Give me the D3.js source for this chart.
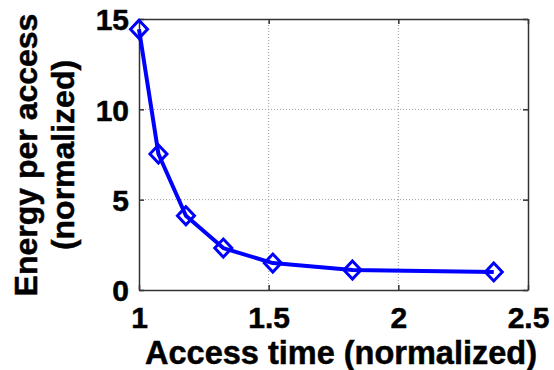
<!DOCTYPE html>
<html>
<head>
<meta charset="utf-8">
<script src="https://cdn.jsdelivr.net/npm/d3@7"></script>
<style>
body{margin:0;background:#fff;}
svg text{font-family:"Liberation Sans",Arial,sans-serif;font-weight:bold;fill:#000;stroke:#000;stroke-width:0.5px;}
</style>
</head>
<body>
<div id="my_dataviz"></div>
<script>
// access time vs energy per access, both normalized
let accessTime = [1.0, 1.075, 1.181, 1.325, 1.516, 1.823, 2.368];
let energy = [14.43, 7.53, 4.11, 2.32, 1.49, 1.11, 1.0];
let xTicks = [1, 1.5, 2, 2.5];
let yTicks = [0, 5, 10, 15];

let W = 554, H = 370;
let margin = {top: 19, right: 26, bottom: 80, left: 139};
let width = W - margin.left - margin.right;
let height = H - margin.top - margin.bottom;

let svg = d3.select("#my_dataviz")
  .append("svg")
    .attr("width", W)
    .attr("height", H)
  .append("g")
    .attr("transform", "translate(" + margin.left + "," + margin.top + ")");

let x = d3.scaleLinear().domain([1, 2.5]).range([0, width]);
let y = d3.scaleLinear().domain([0, 15]).range([height, 0]);

// dotted grid
svg.append("g").selectAll("line")
  .data(xTicks.slice(1, -1))
  .join("line")
    .attr("x1", d => x(d)).attr("x2", d => x(d))
    .attr("y1", 0).attr("y2", height)
    .attr("stroke", "#999").attr("stroke-width", 1)
    .attr("stroke-dasharray", "1,2");
svg.append("g").selectAll("line")
  .data(yTicks.slice(1, -1))
  .join("line")
    .attr("y1", d => y(d)).attr("y2", d => y(d))
    .attr("x1", 0).attr("x2", width)
    .attr("stroke", "#999").attr("stroke-width", 1)
    .attr("stroke-dasharray", "1,2");

// axes, ticks inside like matlab
let xAxis = svg.append("g")
  .attr("transform", "translate(0," + height + ")")
  .call(d3.axisBottom(x).tickValues(xTicks).tickSizeInner(-5).tickSizeOuter(0).tickPadding(17).tickFormat(d3.format("")));
xAxis.selectAll("text").style("font-size", "30px");
let yAxis = svg.append("g")
  .call(d3.axisLeft(y).tickValues(yTicks).tickSizeInner(-5).tickSizeOuter(0).tickPadding(10));
yAxis.selectAll("text").style("font-size", "30px").attr("dy", "0.36em");
svg.append("g")
  .call(d3.axisTop(x).tickValues(xTicks).tickSizeInner(-5).tickSizeOuter(0).tickFormat(""));
svg.append("g")
  .attr("transform", "translate(" + width + ",0)")
  .call(d3.axisRight(y).tickValues(yTicks).tickSizeInner(-5).tickSizeOuter(0).tickFormat(""));
svg.selectAll(".domain, .tick line").attr("stroke", "#333").attr("stroke-width", 1.5);

// curve
let line = d3.line()
  .x((d, i) => x(accessTime[i]))
  .y(d => y(d));
svg.append("path")
  .datum(energy)
  .attr("d", line)
  .attr("fill", "none")
  .attr("stroke", "#0000ff")
  .attr("stroke-width", 4)
  .attr("stroke-linejoin", "round");

svg.append("g").selectAll("path")
  .data(energy)
  .join("path")
    .attr("transform", (d, i) => "translate(" + x(accessTime[i]) + "," + y(d) + ")")
    .attr("d", "M0,-9L8.5,0L0,9L-8.5,0Z")
    .attr("fill", "none")
    .attr("stroke", "#0000ff")
    .attr("stroke-width", 3);

// titles
svg.append("text")
  .attr("x", 341 - margin.left)
  .attr("y", 364 - margin.top)
  .attr("text-anchor", "middle")
  .style("font-size", "32.5px")
  .text("Access time (normalized)");

let yt = svg.append("text")
  .attr("transform", "translate(" + (37 - margin.left) + "," + (155 - margin.top) + ") rotate(-90)")
  .attr("text-anchor", "middle")
  .style("font-size", "32px");
yt.append("tspan").attr("x", 0).attr("dy", 0).text("Energy per access");
yt.append("tspan").attr("x", 0).attr("dy", 37).text("(normalized)");
</script>
</body>
</html>
